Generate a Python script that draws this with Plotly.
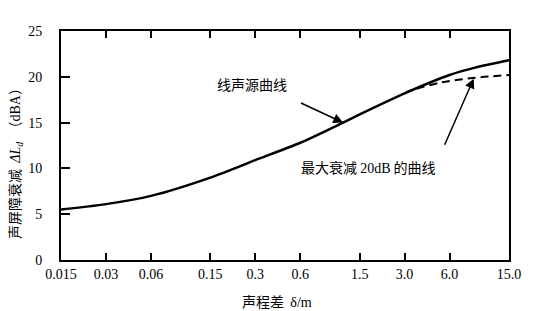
import math
import plotly.graph_objects as go

# Data
x_line = [0.015, 0.03, 0.06, 0.15, 0.3, 0.6, 1.16, 1.5, 3.0, 6.0, 8.9, 15.0]
y_line = [5.5, 6.1, 7.0, 9.0, 10.9, 12.8, 15.0, 15.9, 18.2, 20.2, 21.0, 21.8]

x_max20 = [3.0, 3.3, 5.3, 8.9, 15.0]
y_max20 = [18.2, 18.5, 19.4, 19.9, 20.2]

x_ticks = [0.015, 0.03, 0.06, 0.15, 0.3, 0.6, 1.5, 3.0, 6.0, 15.0]
x_ticktext = ["0.015", "0.03", "0.06", "0.15", "0.3", "0.6", "1.5", "3.0", "6.0", "15.0"]
y_ticks = [0, 5, 10, 15, 20, 25]

label_line = "线声源曲线"
label_max20 = "最大衰减 <span style='font-family:Liberation Serif'>20dB</span> 的曲线"
x_title = "声程差  <span style='font-family:Liberation Serif'>δ/m</span>"
y_title = ("声屏障衰减  <span style='font-family:Liberation Serif'><i>ΔL</i><sub><i>d</i></sub></span>"
           "  （<span style='font-family:Liberation Serif'>dBA</span>）")

cjk = "Noto Sans CJK SC"
serif = "Liberation Serif"

# plot area in pixels (for placing free texts)
L, R, T, B = 61, 509, 31, 260


def px(xp, yp):
    return (xp - L) / (R - L), (B - yp) / (B - T)


fig = go.Figure()
fig.add_trace(go.Scatter(x=x_line, y=y_line, mode="lines",
                         line=dict(color="black", width=2.5, shape="spline", smoothing=0.8),
                         showlegend=False, hoverinfo="skip"))
fig.add_trace(go.Scatter(x=x_max20, y=y_max20, mode="lines",
                         line=dict(color="black", width=2, dash="8px,5px", shape="spline", smoothing=0.8),
                         showlegend=False, hoverinfo="skip"))

fig.update_layout(
    width=533, height=311, autosize=False,
    margin=dict(l=L, r=533 - R, t=T, b=311 - B, pad=0),
    paper_bgcolor="white", plot_bgcolor="white",
    font=dict(family=serif, size=13, color="black"),
    xaxis=dict(type="log", range=[math.log10(0.015), math.log10(15.0)],
               tickvals=x_ticks, ticktext=x_ticktext,
               ticks="inside", ticklen=7, tickwidth=1.5, tickcolor="black",
               showline=True, linecolor="black", linewidth=2, mirror="ticks",
               showgrid=False, zeroline=False,
               tickfont=dict(family=serif, size=14)),
    yaxis=dict(range=[0, 25], tickvals=y_ticks,
               ticks="inside", ticklen=9, tickwidth=1.5, tickcolor="black",
               showline=True, linecolor="black", linewidth=2, mirror=True,
               showgrid=False, zeroline=False, ticklabelstandoff=14,
               tickfont=dict(family=serif, size=14)),
    showlegend=False,
)

# Arrow annotations
fig.add_annotation(x=math.log10(1.16), y=15.0, xref="x", yref="y",
                   ax=-45, ay=-21, showarrow=True, arrowhead=2, arrowsize=1.3,
                   arrowwidth=1.5, arrowcolor="black", text=" ")
fig.add_annotation(x=math.log10(8.7), y=19.8, xref="x", yref="y",
                   ax=-32, ay=73, showarrow=True, arrowhead=2, arrowsize=1.3,
                   arrowwidth=1.5, arrowcolor="black", text=" ")

# Curve labels
x0, y0 = px(252, 84)
fig.add_annotation(x=x0, y=y0, xref="paper", yref="paper",
                   text=label_line, showarrow=False, xanchor="center", yanchor="middle",
                   font=dict(family=cjk, size=14, color="black"))
x0, y0 = px(368, 167)
fig.add_annotation(x=x0, y=y0, xref="paper", yref="paper",
                   text=label_max20, showarrow=False, xanchor="center", yanchor="middle",
                   font=dict(family=cjk, size=14, color="black"))

# Axis titles
x0, y0 = px(277, 301)
fig.add_annotation(x=x0, y=y0, xref="paper", yref="paper",
                   text=x_title, showarrow=False, xanchor="center", yanchor="middle",
                   font=dict(family=cjk, size=14, color="black"))
x0, y0 = px(14, 160)
fig.add_annotation(x=x0, y=y0, xref="paper", yref="paper",
                   text=y_title, showarrow=False, xanchor="center", yanchor="middle",
                   textangle=-90, font=dict(family=cjk, size=14, color="black"))

fig.write_html("out.html")
